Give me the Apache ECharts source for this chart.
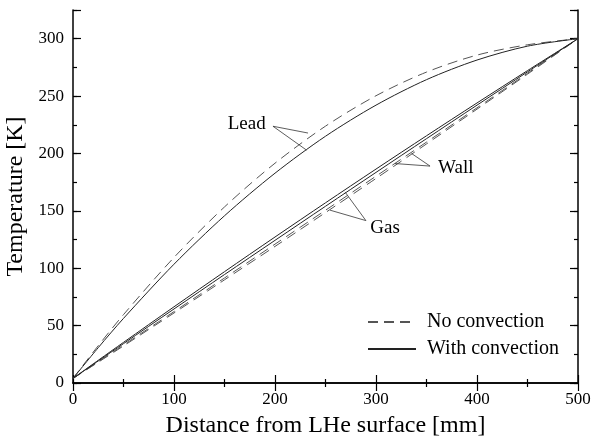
<!DOCTYPE html>
<html>
<head>
<meta charset="utf-8">
<script src="https://cdn.jsdelivr.net/npm/echarts@6/dist/echarts.min.js"></script>
<style>
  html, body { margin: 0; padding: 0; background: #fff; }
  #chart { width: 592px; height: 439px; }
</style>
</head>
<body>
<div id="chart"></div>
<script>
// distance from LHe surface [mm]
const distance = [0, 25, 50, 100, 150, 200, 250, 300, 350, 400, 450, 500]

// temperature [K]
const leadNoConv   = [4, 32.5, 59.6, 109.4, 153.4, 191.5, 223.8, 250.3, 270.9, 285.7, 294.7, 300]
const leadWithConv = [4, 30.8, 56.3, 103.5, 145.7, 182.8, 215.0, 242.1, 264.3, 281.4, 293.5, 300]
const gasWithConv  = [4, 19.8, 35.4, 66.4, 97.0, 127.2, 157.0, 186.4, 215.4, 244.0, 272.2, 300]
const wallWithConv = [4, 19.2, 34.3, 64.5, 94.5, 124.3, 154.0, 183.5, 212.9, 242.1, 271.1, 300]
const gasNoConv    = [4, 18.5, 33.1, 62.2, 91.5, 121.0, 150.5, 180.2, 209.9, 239.8, 269.9, 300]
const wallNoConv   = [4, 18.1, 32.3, 61.0, 89.9, 119.0, 148.5, 178.2, 208.3, 238.6, 269.1, 300]

// annotation labels [x, T] and arrows [from, to]
const labels = [
  { text: 'Lead', at: [172, 226] },
  { text: 'Wall', at: [379, 187] },
  { text: 'Gas', at: [309, 135] }
]
const arrows = [
  [[198, 223.7], [232.7, 217.8]],
  [[198, 223.7], [231.4, 202.8]],
  [[353.5, 189], [335.3, 199.9]],
  [[353.5, 189], [318.8, 191.2]],
  [[290, 141.5], [269.3, 166.5]],
  [[290, 141.5], [254.5, 150.6]]
]

const FONT = '"Liberation Serif", "DejaVu Serif", serif'
const pairs = ys => distance.map((x, i) => [x, ys[i]])

const chart = echarts.init(document.getElementById('chart'))

function lineSeries(name, ys, dashed) {
  const color = dashed ? '#555' : '#222'
  return {
    name: name,
    type: 'line',
    data: pairs(ys),
    smooth: 0.3,
    symbol: 'none',
    showSymbol: false,
    animation: false,
    itemStyle: { color: color },
    lineStyle: dashed
      ? { color: color, width: 1, type: [10, 6] }
      : { color: color, width: 1, type: 'solid' }
  }
}

const xAxisBase = {
  type: 'value',
  min: 0,
  max: 500,
  interval: 100,
  axisLine: { show: true, lineStyle: { color: '#000', width: 1.5 } },
  axisTick: { show: true, inside: true, length: 8, lineStyle: { color: '#000', width: 1.2 } },
  minorTick: { show: true, splitNumber: 2, length: 4, lineStyle: { color: '#000', width: 1.2 } },
  splitLine: { show: false }
}

const yAxisBase = {
  type: 'value',
  min: 0,
  max: 325,
  splitLine: { show: false }
}

const series = [
  lineSeries('No convection', leadNoConv, true),
  lineSeries('With convection', leadWithConv, false),
  lineSeries('No convection', gasNoConv, true),
  lineSeries('No convection', wallNoConv, true),
  lineSeries('With convection', wallWithConv, false),
  lineSeries('With convection', gasWithConv, false)
]

// arrows for the annotations
series[1].markLine = {
  silent: true,
  animation: false,
  symbol: ['none', 'arrow'],
  symbolSize: [0, 8],
  label: { show: false },
  lineStyle: { color: '#333', width: 0.8, type: 'solid' },
  emphasis: { disabled: true },
  data: arrows.map(a => [{ coord: a[0] }, { coord: a[1] }])
}

chart.setOption({
  animation: false,
  grid: { left: 73, right: 14, top: 10, bottom: 56, outerBoundsMode: 'none' },
  legend: {
    data: ['No convection', 'With convection'],
    orient: 'vertical',
    left: 362,
    top: 307,
    itemWidth: 48,
    itemHeight: 14,
    itemGap: 7,
    itemStyle: { opacity: 0 },
    textStyle: { fontFamily: FONT, fontSize: 20, color: '#000', padding: [0, 0, 0, 6] }
  },
  xAxis: [
    Object.assign({}, xAxisBase, {
      position: 'bottom',
      name: 'Distance from LHe surface [mm]',
      nameLocation: 'middle',
      nameGap: 31,
      nameTextStyle: { fontFamily: FONT, fontSize: 24, color: '#000' },
      axisLabel: { fontFamily: FONT, fontSize: 17, color: '#000', margin: 8 }
    }),
    Object.assign({}, xAxisBase, {
      position: 'top',
      axisLabel: { show: false }
    })
  ],
  yAxis: [
    Object.assign({}, yAxisBase, {
      position: 'left',
      interval: 25,
      name: 'Temperature [K]',
      nameLocation: 'middle',
      nameGap: 42,
      nameTextStyle: { fontFamily: FONT, fontSize: 24, color: '#000' },
      axisLine: { show: true, lineStyle: { color: '#000', width: 1.5 } },
      axisTick: { show: true, inside: true, length: 4, lineStyle: { color: '#000', width: 1.2 } },
      axisLabel: {
        fontFamily: FONT, fontSize: 17, color: '#000', margin: 9,
        formatter: v => (v % 50 === 0 ? String(v) : '')
      }
    }),
    Object.assign({}, yAxisBase, {
      position: 'left',
      interval: 50,
      axisLine: { show: false },
      axisTick: { show: true, inside: true, length: 8, lineStyle: { color: '#000', width: 1.2 } },
      axisLabel: { show: false }
    }),
    Object.assign({}, yAxisBase, {
      position: 'right',
      interval: 25,
      axisLine: { show: true, lineStyle: { color: '#000', width: 1.5 } },
      axisTick: { show: true, inside: true, length: 4, lineStyle: { color: '#000', width: 1.2 } },
      axisLabel: { show: false }
    }),
    Object.assign({}, yAxisBase, {
      position: 'right',
      interval: 50,
      axisLine: { show: false },
      axisTick: { show: true, inside: true, length: 8, lineStyle: { color: '#000', width: 1.2 } },
      axisLabel: { show: false }
    })
  ],
  series: series
})

// annotation texts placed through the axes' scales
chart.setOption({
  graphic: labels.map(l => {
    const p = chart.convertToPixel({ xAxisIndex: 0, yAxisIndex: 0 }, l.at)
    return {
      type: 'text',
      x: p[0],
      y: p[1],
      silent: true,
      style: {
        text: l.text,
        fontFamily: FONT,
        fontSize: 19,
        fill: '#000',
        align: 'center',
        verticalAlign: 'middle'
      }
    }
  })
})
</script>
</body>
</html>
